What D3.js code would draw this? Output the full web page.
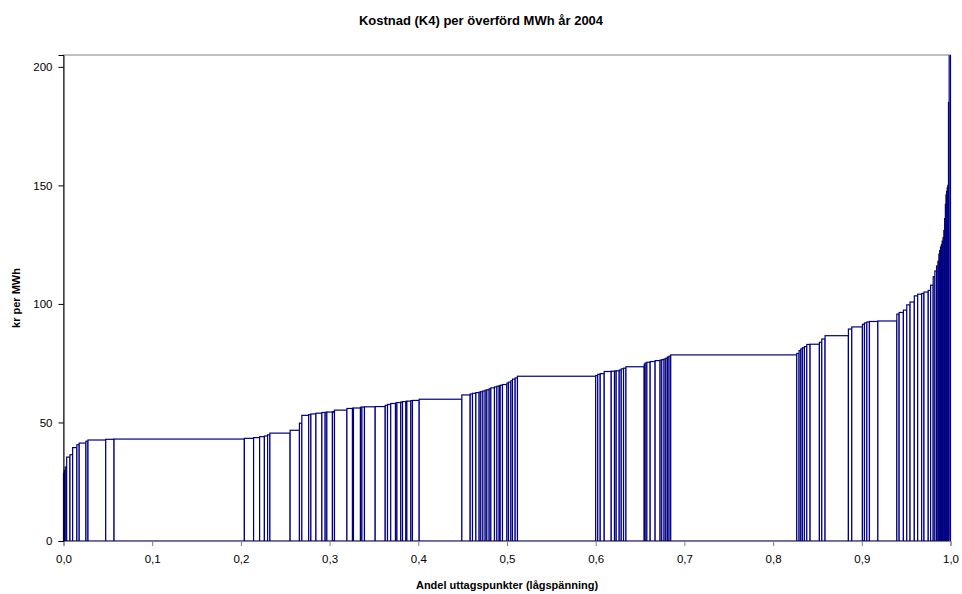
<!DOCTYPE html>
<html>
<head>
<meta charset="utf-8" />
<script src="https://cdn.jsdelivr.net/npm/d3@7"></script>
<style>
  body { margin: 0; background: #fff; }
  svg text { font-family: "Liberation Sans", Arial, sans-serif; fill: #000; }
  .bars rect { fill: #fff; stroke: #000080; stroke-width: 1.2px; }
</style>
</head>
<body>
<svg id="chart" width="962" height="594"></svg>
<script>
// andel av uttagspunkter per nät (sorterade efter kostnad)
var andel = [
  0.0009, 0.0011, 0.0016, 0.0037, 0.0030, 0.0048, 0.0026, 0.0076, 0.0023, 0.0200,
  0.0094, 0.1469, 0.0104, 0.0068, 0.0054, 0.0036, 0.0026, 0.0228, 0.0105, 0.0027,
  0.0077, 0.0025, 0.0057, 0.0067, 0.0037, 0.0019, 0.0063, 0.0023, 0.0140, 0.0063,
  0.0011, 0.0079, 0.0016, 0.0029, 0.0121, 0.0113, 0.0026, 0.0036, 0.0054, 0.0016,
  0.0043, 0.0020, 0.0038, 0.0011, 0.0045, 0.0018, 0.0076, 0.0481, 0.0094, 0.0026,
  0.0038, 0.0037, 0.0019, 0.0023, 0.0026, 0.0019, 0.0026, 0.0019, 0.0041, 0.0027,
  0.0026, 0.0011, 0.0026, 0.0050, 0.0018, 0.0027, 0.0018, 0.0030, 0.0026, 0.0882,
  0.0023, 0.0028, 0.0045, 0.0079, 0.0037, 0.0019, 0.0034, 0.0023, 0.0026, 0.0027,
  0.0206, 0.0011, 0.0019, 0.0037, 0.0056, 0.0056, 0.0019, 0.0026, 0.0019, 0.0018,
  0.0019, 0.0019, 0.1421, 0.0026, 0.0019, 0.0018, 0.0023, 0.0027, 0.0037, 0.0105,
  0.0027, 0.0037, 0.0263, 0.0038, 0.0120, 0.0023, 0.0027, 0.0029, 0.0095, 0.0214,
  0.0026, 0.0048, 0.0038, 0.0037, 0.0048, 0.0038, 0.0045, 0.0026, 0.0048, 0.0027,
  0.0029, 0.0019, 0.0019, 0.0015, 0.0011, 0.0009, 0.0009, 0.0010, 0.0009, 0.0010,
  0.0009, 0.0009, 0.0008, 0.0007, 0.0007, 0.0007, 0.0007, 0.0007, 0.0008, 0.0015
];

// kr per MWh
var kostnad = [
  28.5, 29.8, 31.2, 35.4, 36.4, 39.4, 40.6, 41.3, 42.1, 42.6,
  42.9, 43.0, 43.3, 43.6, 44.0, 44.3, 44.8, 45.5, 46.7, 49.7,
  53.0, 53.3, 53.6, 53.9, 54.2, 54.3, 54.4, 54.6, 55.2, 55.9,
  56.0, 56.1, 56.4, 56.5, 56.6, 56.7, 57.2, 57.6, 58.0, 58.2,
  58.4, 58.6, 58.8, 58.9, 59.0, 59.2, 59.3, 59.8, 61.6, 62.0,
  62.3, 62.6, 62.8, 63.0, 63.3, 63.6, 63.8, 64.2, 64.6, 65.0,
  65.3, 65.5, 65.7, 66.0, 66.6, 67.0, 67.6, 68.3, 68.8, 69.5,
  69.8, 70.3, 70.6, 71.5, 71.6, 71.7, 71.8, 72.1, 72.6, 72.9,
  73.5, 74.6, 75.1, 75.4, 75.7, 76.1, 76.3, 76.5, 76.8, 77.1,
  77.6, 78.0, 78.5, 79.1, 80.3, 81.0, 81.5, 82.0, 82.9, 83.0,
  83.8, 85.2, 86.6, 89.4, 90.3, 91.4, 92.0, 92.4, 92.6, 92.8,
  95.7, 96.4, 97.4, 99.6, 100.8, 103.4, 104.1, 104.4, 105.0, 105.7,
  107.9, 111.5, 113.9, 116.0, 118.0, 121.0, 122.5, 124.0, 125.0, 126.5,
  128.0, 131.0, 136.0, 142.0, 146.0, 147.5, 149.0, 150.0, 185.0, 205.0
];

var xTicks = [0, 0.1, 0.2, 0.3, 0.4, 0.5, 0.6, 0.7, 0.8, 0.9, 1.0];
var yTicks = [0, 50, 100, 150, 200];

var svg = d3.select('#chart');
var margin = {left: 63.5, right: 11.5, top: 55, bottom: 53};
var width = 962 - margin.left - margin.right,
    height = 594 - margin.top - margin.bottom;

var total = d3.sum(andel);
var start = 0;
var bars = andel.map(function(a, i) {
  var d = {x0: start / total, x1: (start + a) / total, v: kostnad[i]};
  start += a;
  return d;
});

var x = d3.scaleLinear().domain([0, 1]).range([0, width]);
var y = d3.scaleLinear().domain([0, 205]).range([height, 0]);

var g = svg.append('g').attr('transform', 'translate(' + margin.left + ',' + margin.top + ')');

// plot area border
g.append('rect')
  .attr('width', width).attr('height', height)
  .attr('fill', 'none').attr('stroke', '#808080').attr('stroke-width', 1);

g.append('clipPath').attr('id', 'clip')
  .append('rect').attr('x', -2).attr('y', 0).attr('width', width + 4).attr('height', height);

g.append('g').attr('class', 'bars').attr('clip-path', 'url(#clip)')
  .selectAll('rect')
  .data(bars)
  .enter().append('rect')
  .attr('x', function(d) { return x(d.x0); })
  .attr('y', function(d) { return y(d.v); })
  .attr('width', function(d) { return Math.max(0, x(d.x1) - x(d.x0)); })
  .attr('height', function(d) { return height - y(d.v); });

var fmt = function(d) { return d3.format('.1f')(d).replace('.', ','); };

var xAxis = g.append('g')
  .attr('transform', 'translate(0,' + height + ')')
  .call(d3.axisBottom(x).tickValues(xTicks).tickFormat(fmt).tickSize(5).tickPadding(9));
xAxis.select('.domain').attr('stroke', '#808080');
xAxis.selectAll('.tick line').attr('stroke', '#808080');

var yAxis = g.append('g')
  .call(d3.axisLeft(y).tickValues(yTicks).tickSize(5).tickPadding(6));
yAxis.select('.domain').attr('stroke', '#000');

g.selectAll('.tick text').attr('font-size', 11.5).style('font-family', '"Liberation Sans", Arial, sans-serif');

svg.append('text')
  .attr('x', 481).attr('y', 25)
  .attr('text-anchor', 'middle')
  .attr('font-size', 13).attr('font-weight', 'bold')
  .text('Kostnad (K4) per överförd MWh år 2004');

svg.append('text')
  .attr('x', margin.left + width / 2).attr('y', 589)
  .attr('text-anchor', 'middle')
  .attr('font-size', 11).attr('font-weight', 'bold')
  .text('Andel uttagspunkter (lågspänning)');

svg.append('text')
  .attr('transform', 'translate(20,' + (margin.top + height / 2) + ') rotate(-90)')
  .attr('text-anchor', 'middle')
  .attr('font-size', 11).attr('font-weight', 'bold')
  .text('kr per MWh');
</script>
</body>
</html>
